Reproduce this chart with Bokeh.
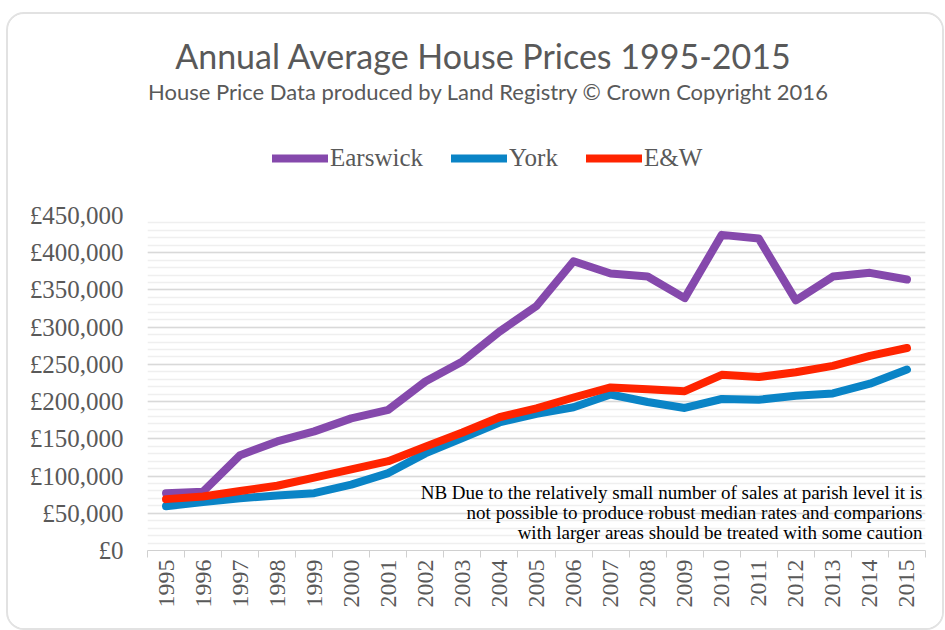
import math
from bokeh.plotting import figure
from bokeh.layouts import column
from bokeh.models import Range1d, FixedTicker, SingleIntervalTicker, Label, Legend, LegendItem
from bokeh.embed import file_html
from bokeh.resources import INLINE

years = list(range(1995, 2016))
earswick = [77000, 79000, 128000, 146500, 160000, 177500, 189000, 227000, 254000, 294000,
            328500, 388500, 372000, 368000, 339000, 424000, 419000, 336000, 368000, 373000, 364000]
york = [59500, 65000, 70000, 74000, 77000, 88500, 104000, 130500, 151000, 172000,
        183500, 192500, 209500, 199500, 191500, 203500, 202500, 208000, 211000, 224000, 243000]
ew = [69000, 72500, 80000, 87000, 98000, 109000, 120000, 139500, 158500, 179000,
      191000, 205500, 219000, 216500, 214000, 236000, 233000, 239500, 248000, 261500, 272000]
y_ticks = [0, 50000, 100000, 150000, 200000, 250000, 300000, 350000, 400000, 450000]
y_tick_labels = ["£0", "£50,000", "£100,000", "£150,000", "£200,000", "£250,000",
                 "£300,000", "£350,000", "£400,000", "£450,000"]
series_names = ["Earswick", "York", "E&W"]
series_colors = ["#8549AC", "#0A84C6", "#FF2400"]
title_text = "Annual Average House Prices 1995-2015"
subtitle_text = "House Price Data produced by Land Registry © Crown Copyright 2016"
note_lines = ["NB Due to the relatively small number of sales at parish level it is",
              "not possible to produce robust median rates and comparions",
              "with larger areas should be treated with some caution"]

gray = "#595959"
W = 934
HH = 186   # header height
MH = 428   # main chart height
BL, BR = 139, 17  # side borders shared by both figures (frames are aligned in the column)

# ---------- header: title, subtitle, legend ----------
h = figure(width=W, height=HH, output_backend="svg", toolbar_location=None,
           x_range=Range1d(BL, W - BR), y_range=Range1d(0, HH),
           min_border_left=BL, min_border_right=BR, min_border_top=0, min_border_bottom=0)
h.axis.visible = False
h.grid.visible = False
h.outline_line_color = None
h.background_fill_color = "white"
h.border_fill_color = "white"

h.add_layout(Label(x=475, y=145, text=title_text, text_align="center", text_baseline="middle",
                   text_font="Lato", text_font_size="34px", text_color=gray))
h.add_layout(Label(x=480, y=109, text=subtitle_text, text_align="center", text_baseline="middle",
                   text_font="Lato", text_font_size="22px", text_color=gray))

items = []
for name, vals, col in zip(series_names, [earswick, york, ew], series_colors):
    # legend keys only: these lines fall outside the header's range, so they are not drawn
    r = h.line(years, vals, line_color=col, line_width=8, line_cap="round")
    items.append(LegendItem(label=name, renderers=[r]))

legend = Legend(items=items, orientation="horizontal", location=(125, 28))
legend.background_fill_alpha = 0
legend.border_line_color = None
legend.padding = 0
legend.margin = 0
legend.spacing = 28
legend.label_standoff = 2
legend.glyph_width = 56
legend.glyph_height = 22
legend.label_text_font = "Liberation Serif"
legend.label_text_font_size = "25px"
legend.label_text_color = gray
h.add_layout(legend, "center")

# ---------- main chart ----------
p = figure(width=W, height=MH, output_backend="svg", toolbar_location=None,
           x_range=Range1d(years[0] - 0.5, years[-1] + 0.5), y_range=Range1d(0, 450000),
           min_border_left=BL, min_border_right=BR, min_border_top=15, min_border_bottom=78)
p.outline_line_color = None
p.background_fill_color = "white"
p.border_fill_color = "white"

p.xaxis.ticker = FixedTicker(ticks=years, minor_ticks=[y - 0.5 for y in years] + [years[-1] + 0.5])
p.xaxis.major_tick_line_color = None
p.xaxis.minor_tick_line_color = "#d0d0d0"
p.xaxis.minor_tick_out = 7
p.xaxis.minor_tick_in = 0
p.xaxis.axis_line_color = "#d0d0d0"
p.xaxis.major_label_orientation = math.pi / 2
p.xaxis.major_label_text_font = "Liberation Serif"
p.xaxis.major_label_text_font_size = "24px"
p.xaxis.major_label_text_color = gray
p.xaxis.major_label_standoff = 2
p.xgrid.grid_line_color = None

p.yaxis.ticker = SingleIntervalTicker(interval=50000, num_minor_ticks=5)
p.yaxis.major_label_overrides = {t: l for t, l in zip(y_ticks, y_tick_labels)}
p.yaxis.axis_line_color = None
p.yaxis.major_tick_line_color = None
p.yaxis.minor_tick_line_color = None
p.yaxis.major_label_text_font = "Liberation Serif"
p.yaxis.major_label_text_font_size = "25px"
p.yaxis.major_label_text_color = gray
p.yaxis.major_label_standoff = 18
p.ygrid.grid_line_color = "#d9d9d9"
p.ygrid.grid_line_width = 1.5
p.ygrid.minor_grid_line_color = "#efefef"
p.ygrid.minor_grid_line_width = 1.5

for name, vals, col in zip(series_names, [earswick, york, ew], series_colors):
    p.line(years, vals, line_color=col, line_width=8, line_join="round", line_cap="round")

for i, line in enumerate(note_lines):
    p.add_layout(Label(x=years[-1] + 0.5, y=(58 - 20 * i) / 335 * 450000, x_offset=-3,
                       text=line, text_align="right", text_baseline="middle",
                       text_font="Liberation Serif", text_font_size="19px", text_color="#000000"))

layout = column(h, p, spacing=0)
layout.styles = {"margin": "12px 0px 0px 6px", "border": "2px solid #e2e2e2",
                 "border-radius": "18px", "overflow": "hidden", "background-color": "white"}

open("out.html", "w").write(file_html(layout, INLINE))
